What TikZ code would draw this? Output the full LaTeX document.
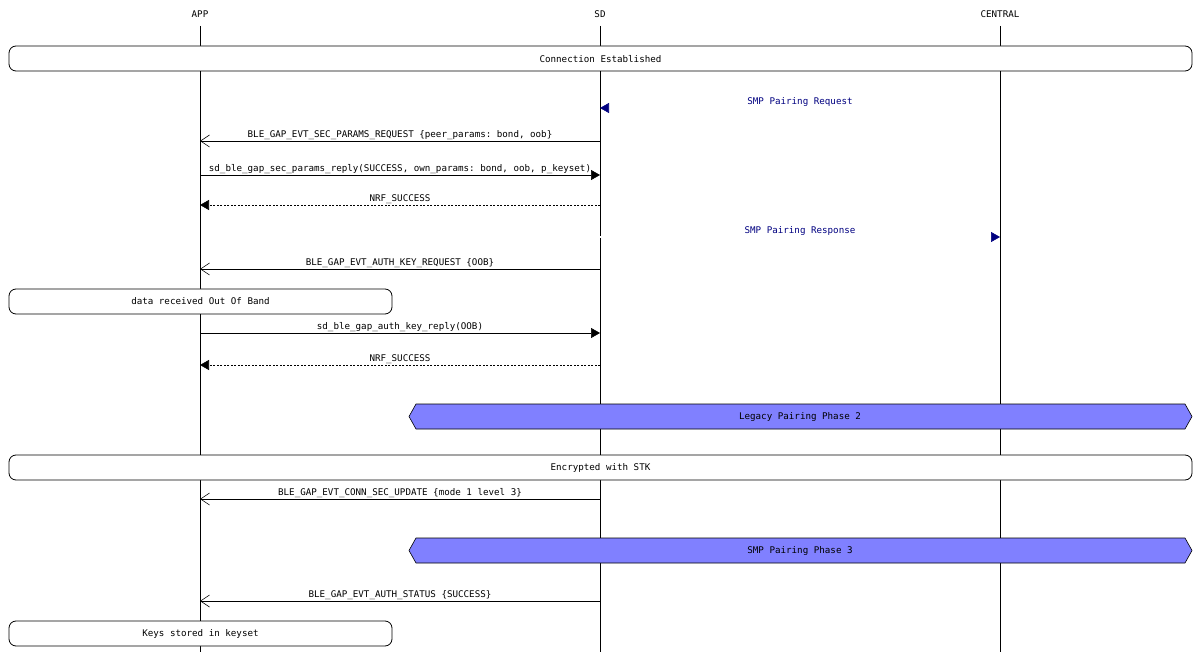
\documentclass[tikz,border=0pt]{standalone}
\usepackage{fontspec}
\setmonofont{DejaVu Sans Mono}
\usetikzlibrary{arrows.meta,shapes.misc}
\definecolor{navy}{RGB}{0,0,128}
\definecolor{phase}{RGB}{128,128,255}
\begin{document}
\begin{tikzpicture}[x=1pt,y=-1pt,
  every node/.style={font=\ttfamily\fontsize{9.2}{10}\selectfont,inner sep=0pt},
  life/.style={draw=black,line width=0.6pt},
  box/.style={draw=black,fill=white,rounded corners=7pt,line width=0.8pt},
  hexa/.style={draw=black,fill=phase,line width=0.6pt},
  evt/.style={line width=0.6pt,-{Straight Barb[length=9pt,width=12pt]}},
  call/.style={line width=0.6pt,-{Triangle[length=9pt,width=10pt]}},
  ret/.style={line width=0.6pt,dash pattern=on 2pt off 1.5pt,-{Triangle[length=9pt,width=10pt]}},
  smp/.style={navy,double,double distance=1.5pt,line width=0.6pt,-{Triangle[length=9pt,width=10pt,navy]}},
  lbl/.style={above=1.5pt}]
\useasboundingbox (0,0) rectangle (1200,652);
\node (app) at (200,14) {APP};
\node (sd) at (600,14) {SD};
\node (cen) at (1000,14) {CENTRAL};
\coordinate (appE) at (200,652);
\coordinate (sdE) at (600,652);
\coordinate (cenE) at (1000,652);
\draw[life] (200,26) -- (appE);
\draw[life] (600,26) -- (sdE);
\draw[life] (1000,26) -- (cenE);
% boxes
\draw[box] (9,46) rectangle (1192,71);
\node (b1) at (600.5,59) {Connection Established};
% message coordinates
\foreach \n/\y in {1/108,2/141,3/175,4/205,5/237,6/269,7/333,8/365,9/499,10/601}{
  \coordinate (a\n) at (200,\y); \coordinate (s\n) at (600,\y); \coordinate (c\n) at (1000,\y);}
\draw[smp] (c1) -- node[lbl] (m1) {SMP Pairing Request} (s1);
\draw[evt] (s2) -- node[lbl] (m2) {BLE\_GAP\_EVT\_SEC\_PARAMS\_REQUEST \{peer\_params: bond, oob\}} (a2);
\draw[call] (a3) -- node[lbl] (m3) {sd\_ble\_gap\_sec\_params\_reply(SUCCESS, own\_params: bond, oob, p\_keyset)} (s3);
\draw[ret] (s4) -- node[lbl] (m4) {NRF\_SUCCESS} (a4);
\draw[smp] (s5) -- node[lbl] (m5) {SMP Pairing Response} (c5);
\draw[evt] (s6) -- node[lbl] (m6) {BLE\_GAP\_EVT\_AUTH\_KEY\_REQUEST \{OOB\}} (a6);
\draw[box] (9,289) rectangle (392,314);
\node (b2) at (200.5,301) {data received Out Of Band};
\draw[call] (a7) -- node[lbl] (m7) {sd\_ble\_gap\_auth\_key\_reply(OOB)} (s7);
\draw[ret] (s8) -- node[lbl] (m8) {NRF\_SUCCESS} (a8);
\draw[hexa] (409,416.5) -- (416,404) -- (1185,404) -- (1192,416.5) -- (1185,429) -- (416,429) -- cycle;
\node (h1) at (800,417) {Legacy Pairing Phase 2};
\draw[box] (9,455) rectangle (1192,480);
\node (b3) at (600.5,468) {Encrypted with STK};
\draw[evt] (s9) -- node[lbl] (m9) {BLE\_GAP\_EVT\_CONN\_SEC\_UPDATE \{mode 1 level 3\}} (a9);
\draw[hexa] (409,550.5) -- (416,538) -- (1185,538) -- (1192,550.5) -- (1185,563) -- (416,563) -- cycle;
\node (h2) at (800,551) {SMP Pairing Phase 3};
\draw[evt] (s10) -- node[lbl] (m10) {BLE\_GAP\_EVT\_AUTH\_STATUS \{SUCCESS\}} (a10);
\draw[box] (9,621) rectangle (392,646);
\node (b4) at (200.5,634) {Keys stored in keyset};
\end{tikzpicture}
\end{document}
